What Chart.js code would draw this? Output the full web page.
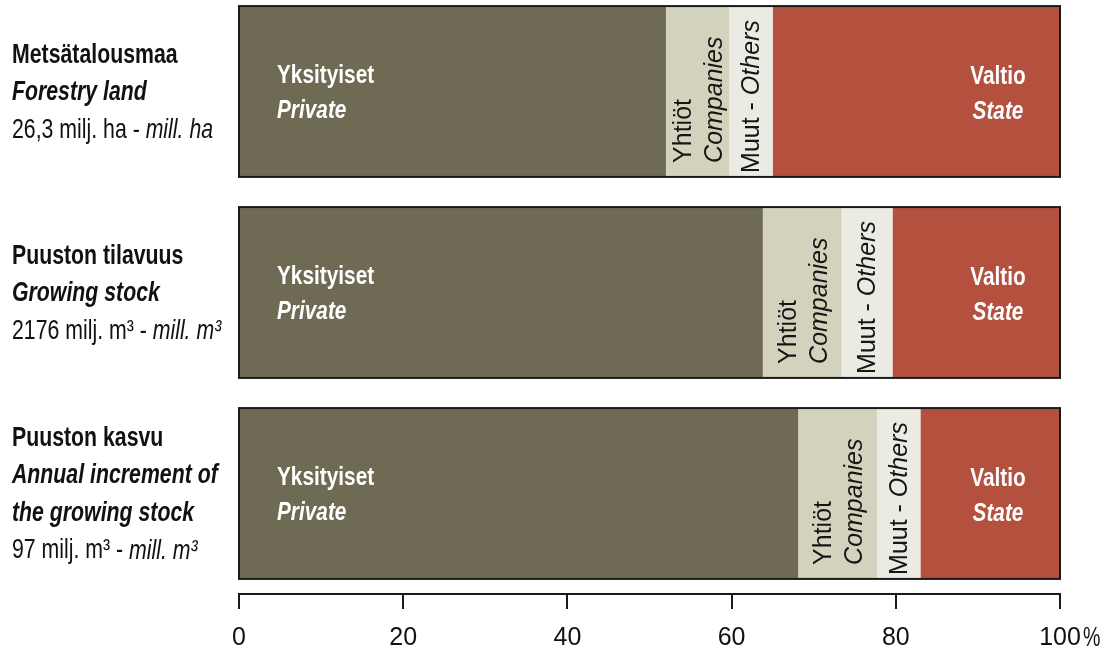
<!DOCTYPE html>
<html><head><meta charset="utf-8">
<script src="https://cdn.jsdelivr.net/npm/chart.js@4"></script>
<style>
html,body{margin:0;padding:0;background:#fff;overflow:hidden;}
#wrap{position:absolute;left:0;top:-9px;width:1108px;height:678px;}
</style></head><body>
<div id="wrap"><canvas id="c" width="1108" height="678"></canvas></div>
<script>
// Categories (left labels: line style + text)
const categoryIds = ['Metsätalousmaa', 'Puuston tilavuus', 'Puuston kasvu'];
const categoryLines = [
  [['b','Metsätalousmaa'], ['i','Forestry land'], ['n','26,3 milj. ha - ','mill. ha']],
  [['b','Puuston tilavuus'], ['i','Growing stock'], ['n','2176 milj. m³ - ','mill. m³']],
  [['b','Puuston kasvu'], ['i','Annual increment of'], ['i','the growing stock'], ['n','97 milj. m³ - ','mill. m³']]
];
// Series (percent shares)
const privateShare   = [52.0, 63.8, 68.1];
const companiesShare = [7.7, 9.6, 9.6];
const othersShare    = [5.3, 6.2, 5.3];
const stateShare     = [35.0, 20.4, 17.0];
const seriesFi = ['Yksityiset', 'Yhtiöt', 'Muut', 'Valtio'];
const seriesEn = ['Private', 'Companies', 'Others', 'State'];
const xTicks = [0, 20, 40, 60, 80, 100];

const FONT = '"Liberation Sans", Arial, Helvetica, sans-serif';

// draw horizontally condensed text; returns drawn width
function drawText(ctx, txt, x, y, font, sx, align) {
  ctx.save();
  ctx.font = font;
  const w = ctx.measureText(txt).width * sx;
  let x0 = x;
  if (align === 'center') x0 = x - w / 2;
  else if (align === 'right') x0 = x - w;
  ctx.translate(x0, y);
  ctx.scale(sx, 1);
  ctx.textAlign = 'left';
  ctx.fillText(txt, 0, 0);
  ctx.restore();
  return w;
}

const labelsPlugin = {
  id: 'labelsPlugin',
  afterDatasetsDraw(chart) {
    const ctx = chart.ctx;
    const y = chart.scales.y, x = chart.scales.x;
    ctx.save();
    // outer frames around bars
    const m0 = chart.getDatasetMeta(0);
    m0.data.forEach((el) => {
      const top = el.y - el.height / 2, h = el.height;
      ctx.strokeStyle = '#1a1a1a';
      ctx.lineWidth = 2;
      ctx.strokeRect(x.getPixelForValue(0), top, x.getPixelForValue(100) - x.getPixelForValue(0), h);
    });
    // left category labels
    ctx.fillStyle = '#111';
    ctx.textBaseline = 'middle';
    const SX = 0.76;
    categoryLines.forEach((lines, j) => {
      const cy = y.getPixelForValue(j);
      const lh = 37.5;
      const start = cy - (lines.length - 1) * lh / 2 + 1;
      lines.forEach((ln, k) => {
        const ly = start + k * lh;
        const style = ln[0];
        let f;
        if (style === 'b') f = 'bold 28px ' + FONT;
        else if (style === 'i') f = 'italic bold 28px ' + FONT;
        else f = '28px ' + FONT;
        const w = drawText(ctx, ln[1], 12, ly, f, SX, 'left');
        if (ln[2]) drawText(ctx, ln[2], 12 + w, ly, 'italic 28px ' + FONT, SX, 'left');
      });
    });
    // in-bar labels
    const metas = [0,1,2,3].map(i => chart.getDatasetMeta(i));
    const IN_SX = 0.8;
    for (let j = 0; j < categoryIds.length; j++) {
      // Private
      let el = metas[0].data[j];
      ctx.fillStyle = '#fff';
      drawText(ctx, seriesFi[0], el.base + 37, el.y - 16, 'bold 26px ' + FONT, IN_SX, 'left');
      drawText(ctx, seriesEn[0], el.base + 37, el.y + 19, 'italic bold 26px ' + FONT, IN_SX, 'left');
      // State
      el = metas[3].data[j];
      const sx = x.getPixelForValue(100) - 62;
      drawText(ctx, seriesFi[3], sx, el.y - 15, 'bold 26px ' + FONT, IN_SX, 'center');
      drawText(ctx, seriesEn[3], sx, el.y + 20, 'italic bold 26px ' + FONT, IN_SX, 'center');
      // Companies (rotated)
      el = metas[1].data[j];
      const bottom = el.y + el.height / 2;
      const cxm = (el.base + el.x) / 2;
      ctx.fillStyle = '#151515';
      ctx.save();
      ctx.translate(cxm, bottom);
      ctx.rotate(-Math.PI / 2);
      drawText(ctx, seriesFi[1], 14, -13, '25px ' + FONT, 1, 'left');
      drawText(ctx, seriesEn[1], 14, 18, 'italic 25px ' + FONT, 1, 'left');
      ctx.restore();
      // Others (rotated)
      el = metas[2].data[j];
      const cxo = (el.base + el.x) / 2;
      ctx.save();
      ctx.translate(cxo, bottom);
      ctx.rotate(-Math.PI / 2);
      const w1 = drawText(ctx, seriesFi[2] + ' - ', 4, 1, '25px ' + FONT, 1, 'left');
      drawText(ctx, seriesEn[2], 4 + w1, 1, 'italic 25px ' + FONT, 1, 'left');
      ctx.restore();
    }
    // percent sign after the 100 tick
    ctx.fillStyle = '#111';
    drawText(ctx, '%', x.getPixelForValue(100) + 23, x.bottom - 29, '28px ' + FONT, 0.7, 'left');
    ctx.restore();
  }
};

new Chart(document.getElementById('c'), {
  type: 'bar',
  data: {
    labels: categoryIds,
    datasets: [
      { label: seriesEn[0], data: privateShare, backgroundColor: '#6e6a54' },
      { label: seriesEn[1], data: companiesShare, backgroundColor: '#d3d2bd' },
      { label: seriesEn[2], data: othersShare, backgroundColor: '#ebebe3' },
      { label: seriesEn[3], data: stateShare, backgroundColor: '#b4503e' }
    ]
  },
  options: {
    indexAxis: 'y',
    responsive: false,
    animation: false,
    devicePixelRatio: 1,
    layout: { padding: { left: 239, right: 48, top: 0, bottom: 2 } },
    plugins: { legend: { display: false }, tooltip: { enabled: false } },
    datasets: { bar: { barPercentage: 0.85, categoryPercentage: 1.0, borderWidth: 0 } },
    scales: {
      y: { stacked: true, display: false },
      x: {
        stacked: true, min: 0, max: 100,
        afterBuildTicks: (ax) => { ax.ticks = xTicks.map(v => ({ value: v })); },
        grid: { display: true, drawOnChartArea: false, drawTicks: true, tickLength: 15, color: '#1a1a1a', lineWidth: 2 },
        border: { display: true, color: '#1a1a1a', width: 2 },
        ticks: { color: '#111', padding: 14, font: { family: FONT, size: 25 }, maxRotation: 0 }
      }
    }
  },
  plugins: [labelsPlugin]
});
</script>
</body></html>
